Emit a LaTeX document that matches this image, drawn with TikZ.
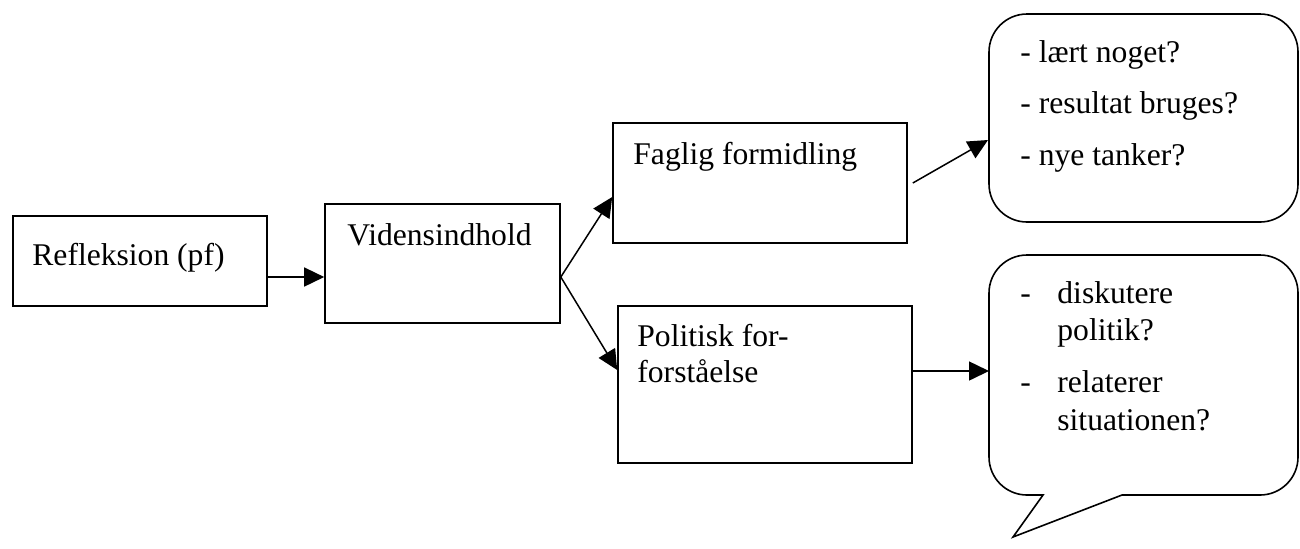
\documentclass[tikz,border=0pt]{standalone}
\usepackage{fontspec}
\setmainfont{Liberation Serif}
\usetikzlibrary{arrows.meta,calc}
\tikzset{
  box/.style={draw, line width=0.8pt, rectangle, inner sep=0pt},
  txt/.style={anchor=base west, inner sep=0pt, font=\fontsize{15.8pt}{19pt}\selectfont},
  arr/.style={line width=0.75pt, -{Triangle[length=10pt,width=9.5pt]}},
  outline/.style={draw, line width=0.8pt},
  bubble/.style={outline, rounded corners=19pt}
}
\begin{document}
\begin{tikzpicture}[x=0.5pt,y=-0.5pt]
\useasboundingbox (0,0) rectangle (1300,548);
% boxes
\node[box, minimum width=127pt, minimum height=45pt] (b1) at (140,261) {};
\node[box, minimum width=117.5pt, minimum height=59.5pt] (b2) at (442.5,263.5) {};
\node[box, minimum width=147pt, minimum height=60pt] (b3) at (760,183) {};
\node[box, minimum width=147pt, minimum height=78.5pt] (b4) at (765,384.5) {};
% texts in boxes
\node[txt] (t1) at (32,265) {Refleksion (pf)};
\node[txt] (t2) at (347,245) {Vidensindhold};
\node[txt] (t3) at (633,164) {Faglig formidling};
\node[txt] (t4a) at (637,346) {Politisk for-};
\node[txt] (t4b) at (637,382) {forståelse};
% bubbles
\draw[bubble] (989,14) rectangle (1298,222);
\coordinate (bub1in) at (988,140);
\draw[outline] (1028,495) -- (1043,495) -- (1013,537) -- (1122,495) -- (1258,495);
\draw[bubble] (1258,495) -- (1298,495) -- (1298,255) -- (989,255) -- (989,495) -- (1028,495);
\coordinate (bub2in) at (989,371);
% bubble texts
\node[txt] (q1) at (1020,62) {- lært noget?};
\node[txt] (q2) at (1020,113) {- resultat bruges?};
\node[txt] (q3) at (1020,165) {- nye tanker?};
\node[txt] (d1) at (1020,303) {-};
\node[txt] (p1) at (1057,303) {diskutere};
\node[txt] (p2) at (1057,340) {politik?};
\node[txt] (d2) at (1020,392) {-};
\node[txt] (p3) at (1057,392) {relaterer};
\node[txt] (p4) at (1057,430) {situationen?};
% arrows
\draw[arr] ([yshift=-8pt]b1.east) -- ([yshift=-6.75pt]b2.west);
\draw[arr] ([yshift=-6.75pt]b2.east) -- ([yshift=-7pt]b3.west);
\draw[arr] ([yshift=-6.75pt]b2.east) -- ([yshift=7.25pt]b4.west);
\draw[arr] ([xshift=2.5pt]b3.east) -- (bub1in);
\draw[arr] ([yshift=6.75pt]b4.east) -- (bub2in);
\end{tikzpicture}
\end{document}
